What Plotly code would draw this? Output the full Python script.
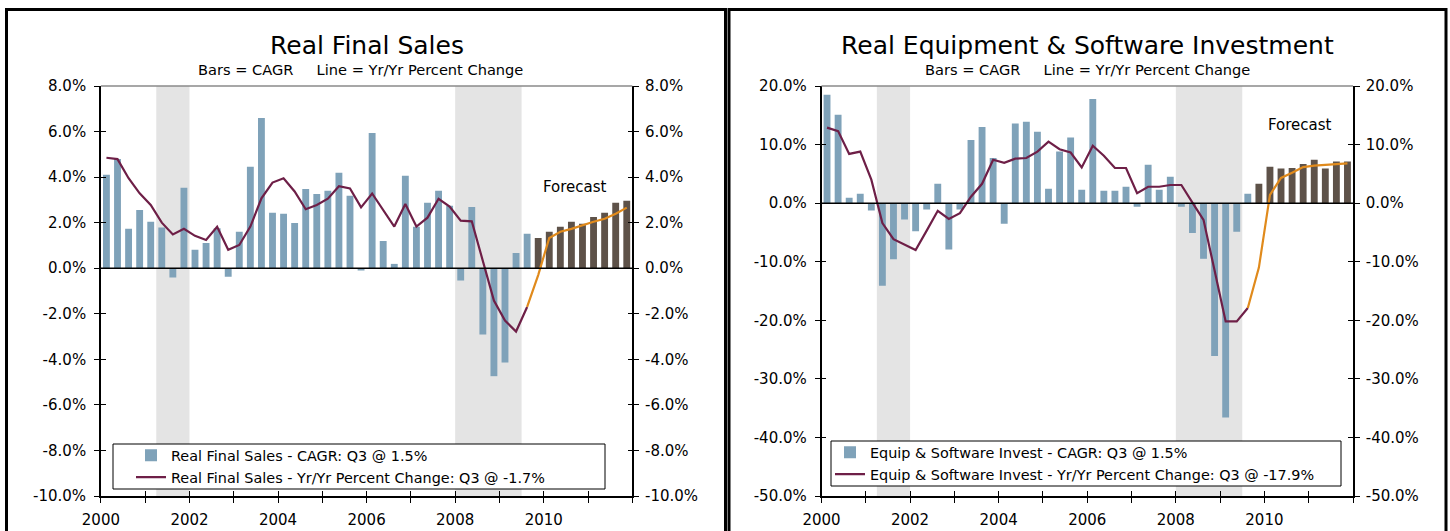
import plotly.graph_objects as go
import pandas as pd

W, H = 1450, 531

# ---------------- data ----------------
quarters = pd.period_range("2000Q1", "2011Q4", freq="Q")
HIST_N = 39  # actual data through 2009Q3

rfs_cagr_hist = [4.10, 4.80, 1.73, 2.56, 2.04, 1.79, -0.41, 3.53, 0.81, 1.11,
                 1.75, -0.37, 1.60, 4.45, 6.60, 2.43, 2.39, 1.99, 3.48, 3.26,
                 3.40, 4.19, 3.18, -0.10, 5.94, 1.20, 0.19, 4.06, 1.82, 2.87,
                 3.40, 2.74, -0.54, 2.69, -2.91, -4.74, -4.14, 0.67, 1.51]
rfs_cagr_fcst = [1.33, 1.60, 1.82, 2.04, 1.95, 2.25, 2.43, 2.87, 2.96]
rfs_yoy_hist = [4.85, 4.79, 3.95, 3.29, 2.78, 2.00, 1.48, 1.73, 1.42, 1.24,
                1.82, 0.81, 1.02, 1.83, 3.07, 3.76, 3.95, 3.37, 2.59, 2.78,
                3.05, 3.60, 3.50, 2.67, 3.28, 2.56, 1.83, 2.82, 1.83, 2.22,
                3.05, 2.71, 2.09, 2.06, 0.30, -1.42, -2.30, -2.78, -1.70]
rfs_yoy_fcst = [-0.30, 1.33, 1.60, 1.73, 1.90, 2.04, 2.17, 2.39, 2.66]

es_cagr_hist = [18.5, 15.1, 0.9, 1.6, -1.25, -14.1, -9.6, -2.8, -4.8, -1.1,
                3.3, -7.9, -1.1, 10.8, 13.0, 7.7, -3.5, 13.6, 13.9, 12.2,
                2.45, 8.8, 11.2, 2.3, 17.8, 2.1, 2.1, 2.8, -0.6, 6.55,
                2.3, 4.5, -0.6, -5.1, -9.5, -26.1, -36.6, -4.9, 1.6]
es_cagr_fcst = [3.3, 6.2, 5.9, 6.0, 6.7, 7.4, 5.9, 7.1, 7.1]
es_yoy_hist = [12.9, 12.3, 8.4, 8.8, 4.0, -3.4, -6.15, -7.1, -8.0, -4.7,
               -1.3, -2.7, -1.7, 1.1, 3.3, 7.4, 6.9, 7.6, 7.7, 8.8,
               10.5, 9.2, 8.65, 6.1, 9.8, 8.1, 6.0, 6.0, 1.7, 2.8,
               2.8, 3.1, 3.1, 0.1, -2.85, -11.5, -20.2, -20.2, -17.9]
es_yoy_fcst = [-11.0, 1.4, 4.3, 5.2, 6.15, 6.4, 6.55, 6.65, 6.8]

recessions = [(2001.25, 2002.0), (2008.0, 2009.5)]
year_ticks = list(range(2000, 2013))
year_labels = [str(y) if (y % 2 == 0 and y < 2012) else "" for y in year_ticks]
rfs_yticks = [-10, -8, -6, -4, -2, 0, 2, 4, 6, 8]
es_yticks = [-50, -40, -30, -20, -10, 0, 10, 20]

titles = ["Real Final Sales", "Real Equipment &amp; Software Investment"]
subtitle = "Bars = CAGR" + "\u00a0" * 5 + "Line = Yr/Yr Percent Change"
legend_text = [
    ("Real Final Sales - CAGR: Q3 @ 1.5%",
     "Real Final Sales - Yr/Yr Percent Change: Q3 @ -1.7%"),
    ("Equip &amp; Software Invest - CAGR: Q3 @ 1.5%",
     "Equip &amp; Software Invest - Yr/Yr Percent Change: Q3 @ -17.9%"),
]
forecast_label_pos = [(2010.7, 3.57), (2010.8, 13.4)]

# ---------------- styles ----------------
C_BAR = "#7fa2b9"
C_FBAR = "#5e5249"
C_LINE = "#6e1f47"
C_FLINE = "#e08a1c"
C_SHADE = "#e4e4e4"
FONT = "DejaVu Sans"

x_all = [p.year + (p.quarter - 0.5) / 4 for p in quarters]
x_hist = x_all[:HIST_N]
x_fcst = x_all[HIST_N:]
x_fline = x_all[HIST_N - 1:]


def pxx(p):
    return p / W


def pxy(p):
    return 1 - p / H


dom_y = [pxy(496), pxy(86)]
doms_x = [[pxx(100.9), pxx(632.3)], [pxx(821.5), pxx(1353.0)]]

fig = go.Figure()
layout = dict(
    template="none",
    width=W, height=H, autosize=False,
    margin=dict(l=0, r=0, t=0, b=0, pad=0, autoexpand=False),
    paper_bgcolor="white", plot_bgcolor="white", barmode="overlay",
    font=dict(family=FONT, size=15, color="black"),
    shapes=[], annotations=[],
)

charts = [
    (rfs_cagr_hist, rfs_cagr_fcst, rfs_yoy_hist, rfs_yoy_fcst, rfs_yticks),
    (es_cagr_hist, es_cagr_fcst, es_yoy_hist, es_yoy_fcst, es_yticks),
]
legend_names = ["legend", "legend2"]
legend_boxes = [(113, 444, 605, 489), (831, 441, 1341, 486)]
legend_text_x = [171, 870]
subtitle_dx = [-6, 0]
panel_boxes = [(6.5, 9.5, 725.5, 540), (729, 9.5, 1446, 540)]

for k, (ch, cf, yh, yf, yt) in enumerate(charts):
    n = 2 * k
    xa = "x" if k == 0 else f"x{n + 1}"
    xo = f"x{n + 2}"
    ya = "y" if k == 0 else f"y{n + 1}"
    yo = f"y{n + 2}"
    xname = "xaxis" if k == 0 else f"xaxis{n + 1}"
    xoname = f"xaxis{n + 2}"
    yname = "yaxis" if k == 0 else f"yaxis{n + 1}"
    yoname = f"yaxis{n + 2}"
    yr = [yt[0], yt[-1]]
    yl = [f"{v:.1f}%" for v in yt]
    lg = legend_names[k]

    fig.add_trace(go.Bar(x=x_hist, y=ch, width=0.155, marker=dict(color=C_BAR, line=dict(width=0)),
                         name=legend_text[k][0], xaxis=xa, yaxis=ya, legend=lg))
    fig.add_trace(go.Bar(x=x_fcst, y=cf, width=0.155, marker=dict(color=C_FBAR, line=dict(width=0)),
                         showlegend=False, xaxis=xa, yaxis=ya))
    fig.add_trace(go.Scatter(x=x_hist, y=yh, mode="lines", line=dict(color=C_LINE, width=2.2),
                             name=legend_text[k][1], xaxis=xa, yaxis=ya, legend=lg))
    # forecast line on the twin axes (identical ranges) so the twin axes are drawn
    fig.add_trace(go.Scatter(x=x_fline, y=[yh[-1]] + yf, mode="lines",
                             line=dict(color=C_FLINE, width=2.2),
                             showlegend=False, xaxis=xo, yaxis=yo))

    common_x = dict(range=[2000, 2012], tickvals=year_ticks, ticktext=year_labels,
                    showgrid=False, zeroline=False, ticklen=5, tickwidth=1, tickcolor="black",
                    automargin=False)
    layout[xname] = dict(domain=doms_x[k], anchor=ya, ticks="outside", showline=True,
                         linecolor="black", linewidth=1.5, ticklabelstandoff=4,
                         tickfont=dict(size=15), **common_x)
    layout[xoname] = dict(overlaying=xa, anchor=yo, side="bottom", ticks="inside",
                          showticklabels=False, showline=False, **common_x)
    common_y = dict(range=yr, tickvals=yt, ticktext=yl, showgrid=False, zeroline=False,
                    ticklen=5, tickwidth=1, tickcolor="black", showline=True,
                    linecolor="black", linewidth=1.5, mirror="ticks",
                    tickfont=dict(size=15), automargin=False)
    layout[yname] = dict(domain=dom_y, anchor=xa, ticks="outside", side="left",
                         ticklabelstandoff=5, **common_y)
    layout[yoname] = dict(overlaying=ya, anchor=xo, ticks="inside", side="right",
                          ticklabelstandoff=8, **common_y)

    # recession shading
    for (r0, r1) in recessions:
        layout["shapes"].append(dict(type="rect", xref=xa, yref=f"{ya} domain", x0=r0, x1=r1,
                                     y0=0, y1=1, fillcolor=C_SHADE, line=dict(width=0),
                                     layer="below"))
    # zero line over bars
    layout["shapes"].append(dict(type="line", xref=f"{xa} domain", yref=ya, x0=0, x1=1,
                                 y0=0, y1=0, line=dict(color="black", width=1.5), layer="above"))
    # top border of plot area
    layout["shapes"].append(dict(type="line", xref=f"{xa} domain", yref=f"{ya} domain",
                                 x0=0, x1=1, y0=1, y1=1, line=dict(color="#8a8a8a", width=1.5),
                                 layer="above"))
    # legend box
    bx0, by0, bx1, by1 = legend_boxes[k]
    layout["shapes"].append(dict(type="rect", xref="paper", yref="paper",
                                 x0=pxx(bx0), x1=pxx(bx1), y0=pxy(by1), y1=pxy(by0),
                                 fillcolor="white", line=dict(color="black", width=1),
                                 layer="above"))
    # panel border
    p0, q0, p1, q1 = panel_boxes[k]
    layout["shapes"].append(dict(type="rect", xref="paper", yref="paper",
                                 x0=pxx(p0), x1=pxx(p1), y0=pxy(q1), y1=pxy(q0),
                                 line=dict(color="black", width=3), layer="above"))

    cx = (doms_x[k][0] + doms_x[k][1]) / 2
    layout["annotations"].append(dict(text=titles[k], xref="paper", yref="paper", x=cx, y=pxy(45),
                                      showarrow=False, font=dict(size=25), xanchor="center",
                                      yanchor="middle"))
    layout["annotations"].append(dict(text=subtitle, xref="paper", yref="paper",
                                      x=cx + pxx(subtitle_dx[k]), y=pxy(69),
                                      showarrow=False, font=dict(size=14.6), xanchor="center",
                                      yanchor="middle"))
    fx, fy = forecast_label_pos[k]
    layout["annotations"].append(dict(text="Forecast", xref=xa, yref=ya, x=fx, y=fy,
                                      showarrow=False, font=dict(size=15), xanchor="center",
                                      yanchor="middle"))

    layout[lg] = dict(x=pxx(legend_text_x[k] - 40), y=pxy(by0 - 4.5), xanchor="left",
                      yanchor="top", bgcolor="rgba(0,0,0,0)", borderwidth=0,
                      font=dict(size=14.4), tracegroupgap=0, itemwidth=30)

fig.update_layout(**layout)
fig.write_html("out.html", config={"displayModeBar": False},
               post_script="document.body.style.margin='0px';")
